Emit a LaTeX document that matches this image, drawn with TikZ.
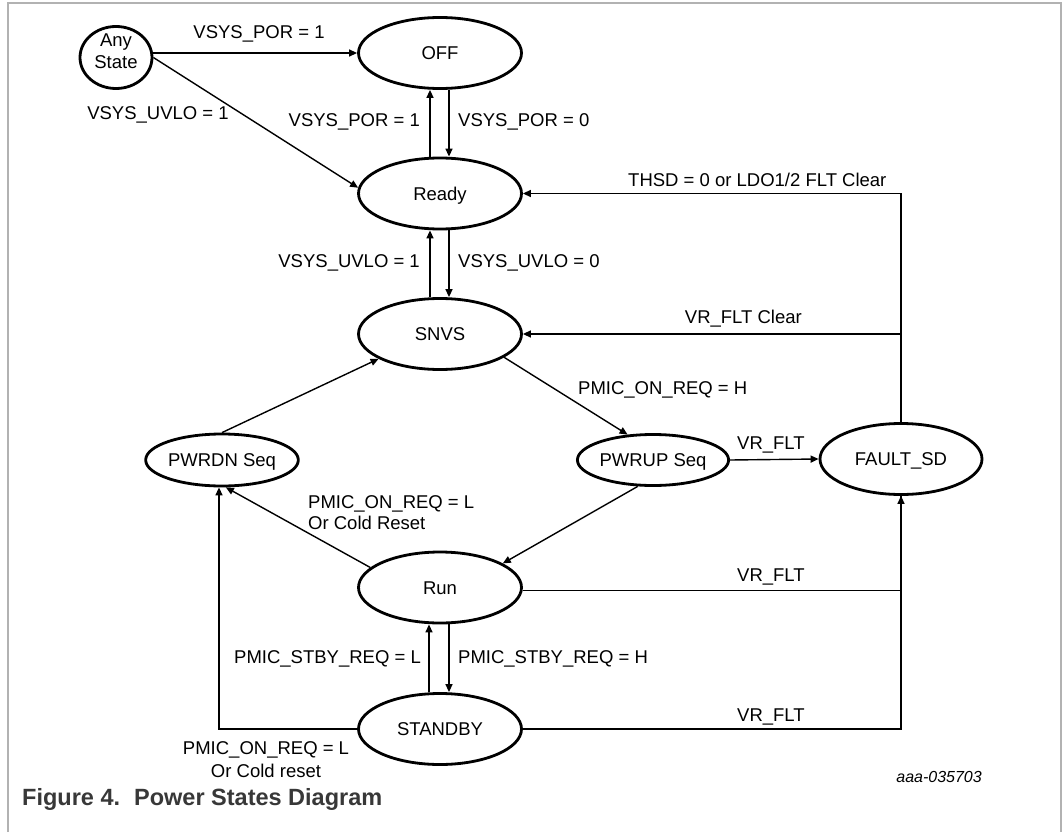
\documentclass[tikz,border=0pt]{standalone}
\usepackage{fontspec}
\setmainfont{Liberation Sans}
\usetikzlibrary{arrows.meta,shapes.geometric}
\begin{document}
\begin{tikzpicture}[x=1pt,y=-1pt,
  every node/.style={font=\fontsize{18.5}{21}\selectfont},
  state/.style={ellipse, draw, line width=2.8pt, inner sep=0pt,
    minimum width=163pt, minimum height=71pt, text height=13.25pt, text depth=0pt},
  smallstate/.style={state, minimum width=138pt, minimum height=52pt},
  lbl/.style={inner sep=0pt, text height=13.25pt, text depth=0pt},
  lblm/.style={inner sep=0pt},
  arr/.style={-{Triangle[length=8pt,width=7pt]}, line width=1.4pt},
  wire/.style={line width=1.4pt},
  frame/.style={draw=black!30, line width=1.6pt}]
\useasboundingbox (0,0) rectangle (1062,832);
\draw[frame] (8,832) -- (8,3) -- (1061,3) -- (1061,832);

% states
\node[state, minimum width=72pt, minimum height=62pt,
  label={[yshift=6.5pt, align=center, inner sep=0pt, font=\fontsize{18.5}{22}\selectfont]center:Any\\State}]
  (any) at (116,57.5) {};
\node[state] (off) at (440,53) {OFF};
\node[state] (ready) at (440,193.5) {Ready};
\node[state] (snvs) at (440,334) {SNVS};
\node[smallstate] (pwrdn) at (222,460) {PWRDN Seq};
\node[smallstate, minimum width=137pt, minimum height=51pt] (pwrup) at (653,460) {PWRUP Seq};
\node[state, minimum width=162pt] (fault) at (901,459) {FAULT\_SD};
\node[state] (run) at (440,587.5) {Run};
\node[state] (standby) at (440,729) {STANDBY};

% connectors
\draw[arr] (any.east |- off.west) -- (off.west);
\draw[arr] (any.east) -- (ready.176);
\draw[arr] ([xshift=-10pt]ready.north) -- ([xshift=-10pt]off.south);
\draw[arr] ([xshift=9pt]off.south) -- ([xshift=9pt]ready.north);
\draw[arr] ([xshift=-10pt]snvs.north) -- ([xshift=-10pt]ready.south);
\draw[arr] ([xshift=9pt]ready.south) -- ([xshift=9pt]snvs.north);
\draw[arr] (fault.north) |- (ready.east);
\draw[arr] (fault.north) |- (snvs.east);
\draw[arr] (snvs.-20) -- (pwrup.135);
\draw[arr] (pwrdn.north) -- (snvs.-158);
\draw[arr] (pwrup.east) -- (fault.west);
\draw[arr] (pwrup.-120) -- (run.21);
\draw[arr] (run.164) -- (pwrdn.-82);
\draw[arr] ([yshift=-3pt]run.east) -| (fault.south);
\draw[wire] (standby.east) -| (fault.south);
\draw[arr] (standby.west) -| ([xshift=-3pt]pwrdn.south);
\draw[arr] ([xshift=-11pt]standby.north) -- ([xshift=-11pt]run.south);
\draw[arr] ([xshift=9pt]run.south) -- ([xshift=9pt]standby.north);

% labels
\node[lbl] (l1) at (259,32) {VSYS\_POR = 1};
\node[lbl] (l2) at (158,113) {VSYS\_UVLO = 1};
\node[lbl, anchor=east] (l3) at (420,120) {VSYS\_POR = 1};
\node[lbl, anchor=west] (l4) at (458,120) {VSYS\_POR = 0};
\node[lbl, anchor=east] (l5) at (420,261) {VSYS\_UVLO = 1};
\node[lbl, anchor=west] (l6) at (458,261) {VSYS\_UVLO = 0};
\node[lbl, anchor=west] (l7) at (628,180) {THSD = 0 or LDO1/2 FLT Clear};
\node[lbl, anchor=east] (l8) at (802,317) {VR\_FLT Clear};
\node[lbl, anchor=west] (l9) at (578,388) {PMIC\_ON\_REQ = H};
\node[lbl, anchor=west] (l10) at (737,443) {VR\_FLT};
\node[lblm, align=left, anchor=north west] (l11) at (308,495.4) {PMIC\_ON\_REQ = L\\Or Cold Reset};
\node[lbl, anchor=west] (l12) at (737,575) {VR\_FLT};
\node[lbl, anchor=east] (l13) at (421,657) {PMIC\_STBY\_REQ = L};
\node[lbl, anchor=west] (l14) at (458,657) {PMIC\_STBY\_REQ = H};
\node[lbl, anchor=west] (l15) at (737,715) {VR\_FLT};
\node[lblm, align=center, anchor=north, font=\fontsize{18.5}{23}\selectfont] (l16) at (266,741.4) {PMIC\_ON\_REQ = L\\Or Cold reset};
\node[inner sep=0pt, text height=11.5pt, text depth=0pt, anchor=east, font=\fontsize{16}{19}\selectfont\itshape] (code) at (982,777) {aaa-035703};
\node[inner sep=0pt, text height=16.8pt, text depth=0pt, anchor=west, text=black!78, font=\fontsize{23.5}{27}\selectfont\bfseries] (cap) at (22,797) {Figure 4.\hspace{14pt}Power States Diagram};
\end{tikzpicture}
\end{document}
